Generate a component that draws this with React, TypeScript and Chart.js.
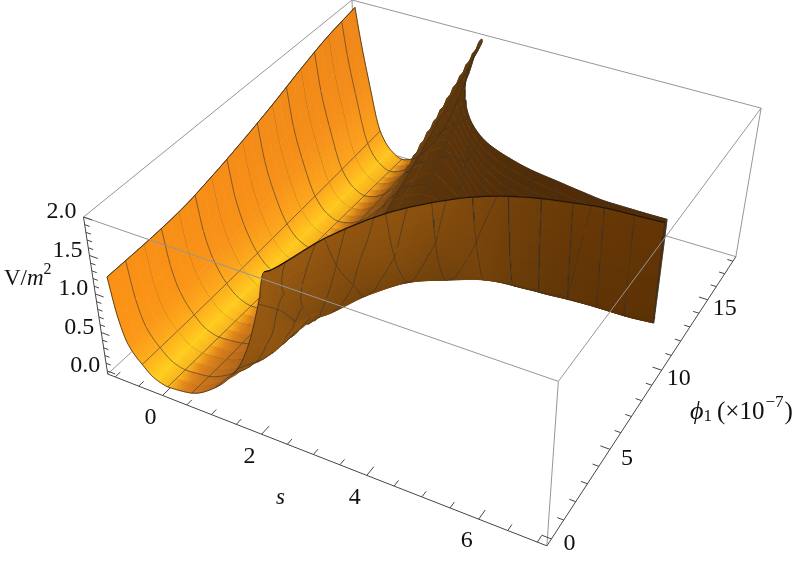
import React, { useEffect, useRef } from "react";
import { Chart, registerables } from "chart.js";

Chart.register(...registerables);

// Surface samples: V(s, phi1). Each row holds one s value, its phi samples and V samples.
const sValues = [-1, -0.9, -0.75, -0.5, -0.25, 0, 0.25, 0.5, 1, 1.5, 1.75, 2, 2.15, 2.5, 3, 3.5, 4, 4.5, 5, 5.5, 6, 6.5, 7];
const sMeshFlags = [1, 0, 0, 1, 0, 1, 0, 1, 1, 1, 0, 1, 0, 1, 1, 1, 1, 1, 1, 1, 1, 1, 1];
const phiRegular = [0, 2.25, 4.5, 6.75, 9, 11.25, 13.5, 15.75, 18];
const phiRows = [
  phiRegular, phiRegular, phiRegular, phiRegular, phiRegular, phiRegular, phiRegular, phiRegular, phiRegular, phiRegular, phiRegular,
  [0, 1.3, 2.26, 3.4, 5.5, 8, 11, 13.5, 15.9],
  [0, 1.2, 2.4, 3.5, 5.8, 8.2, 11.2, 13, 14.9],
  [2.65, 3.38, 4.51, 5.44, 7, 8.4, 11.25, 12.3, 13.3],
  [5, 5.54, 6.1, 6.85, 8, 9.5, 10.9, 11.4, 11.8],
  [6.4, 6.66, 7, 7.69, 8.6, 9.5, 10.2, 10.6, 10.9],
  [7.42, 7.69, 8.1, 8.6, 9.2, 9.7, 10.1, 10.3, 10.4],
  [8.1, 8.3, 8.55, 8.81, 9.2, 9.6, 9.8, 9.95, 10.05],
  [8.55, 8.62, 8.7, 8.8, 9.15, 9.4, 9.6, 9.75, 9.85],
  [8.85, 8.9, 8.95, 9, 9.2, 9.35, 9.45, 9.55, 9.65],
  [9.11, 9.13, 9.16, 9.19, 9.25, 9.3, 9.38, 9.44, 9.5],
  [9.2, 9.2, 9.2, 9.21, 9.27, 9.33, 9.4, 9.45, 9.5],
  [9.3, 9.31, 9.33, 9.37, 9.4, 9.43, 9.46, 9.49, 9.52],
];
const vRows = [
  [1.19, 1.2, 1.23, 1.32, 1.44, 1.58, 1.74, 1.88, 1.97],
  [0.71, 0.72, 0.76, 0.85, 0.95, 1.07, 1.2, 1.37, 1.54],
  [0.37, 0.4, 0.44, 0.5, 0.58, 0.67, 0.77, 0.89, 1.02],
  [0.17, 0.175, 0.185, 0.2, 0.22, 0.24, 0.26, 0.285, 0.31],
  [0.04, 0.04, 0.045, 0.05, 0.055, 0.06, 0.065, 0.07, 0.08],
  [0, 0, 0, 0, 0, 0, 0, 0, 0],
  [0.012, 0.01, 0.012, 0.015, 0.02, 0.025, 0.03, 0.04, 0.05],
  [0.04, 0.03, 0.04, 0.05, 0.07, 0.09, 0.12, 0.15, 0.18],
  [0.23, 0.16, 0.15, 0.2, 0.27, 0.35, 0.44, 0.54, 0.64],
  [0.6, 0.36, 0.32, 0.42, 0.58, 0.78, 1, 1.24, 1.48],
  [0.96, 0.6, 0.5, 0.66, 0.9, 1.15, 1.42, 1.7, 2],
  [1.55, 1.21, 0.89, 0.67, 0.7, 1, 1.35, 1.68, 2],
  [2, 1.45, 1.05, 0.75, 0.72, 1, 1.4, 1.7, 2],
  [2, 1.51, 1.04, 0.73, 0.72, 1, 1.55, 1.78, 2],
  [2, 1.38, 1, 0.76, 0.72, 0.9, 1.34, 1.68, 2],
  [2, 1.52, 1.1, 0.74, 0.7, 0.85, 1.2, 1.6, 2],
  [2, 1.55, 1.05, 0.69, 0.62, 0.75, 1.1, 1.5, 2],
  [2, 1.5, 1.05, 0.72, 0.62, 0.75, 1.1, 1.5, 2],
  [2, 1.6, 1.15, 0.76, 0.65, 0.75, 1.1, 1.5, 2],
  [2, 1.6, 1.15, 0.74, 0.66, 0.75, 1.1, 1.5, 2],
  [2, 1.6, 1.15, 0.72, 0.66, 0.75, 1.1, 1.5, 2],
  [2, 1.6, 1.15, 0.74, 0.66, 0.75, 1.1, 1.5, 2],
  [2, 1.6, 1.15, 0.72, 0.66, 0.75, 1.1, 1.5, 2],
];
// Shading of each row: front part of the row, back part of the row
const rowFrontColors = [
  [250, 145, 22], [251, 147, 22], [252, 152, 24], [254, 175, 28], [255, 206, 30], [250, 180, 30], [226, 132, 26], [205, 120, 28], [175, 100, 25], [145, 84, 16], [148, 88, 17],
  [152, 90, 18], [152, 90, 18], [148, 86, 16], [144, 84, 15], [138, 80, 14], [126, 72, 12], [116, 66, 10], [110, 62, 8], [106, 58, 7], [104, 56, 6], [102, 55, 5], [100, 54, 5],
];
const rowBackColors = [
  [238, 135, 25], [240, 137, 25], [244, 142, 26], [252, 162, 30], [255, 198, 30], [245, 170, 28], [190, 110, 22], [140, 80, 15], [105, 60, 12], [95, 55, 11], [95, 55, 11],
  [95, 55, 11], [95, 55, 11], [92, 52, 10], [88, 50, 10], [85, 48, 9], [82, 46, 8], [80, 45, 8], [80, 45, 8], [80, 45, 8], [80, 45, 8], [80, 45, 8], [80, 45, 8],
];

const sTicks = [-1, -0.5, 0, 0.5, 1, 1.5, 2, 2.5, 3, 3.5, 4, 4.5, 5, 5.5, 6, 6.5, 7];
const sMajor = [0, 2, 4, 6];
const phiTicks = [0, 1, 2, 3, 4, 5, 6, 7, 8, 9, 10, 11, 12, 13, 14, 15, 16, 17, 18];
const phiMajor = [0, 5, 10, 15];
const vTicks = [0, 0.1, 0.2, 0.3, 0.4, 0.5, 0.6, 0.7, 0.8, 0.9, 1, 1.1, 1.2, 1.3, 1.4, 1.5, 1.6, 1.7, 1.8, 1.9, 2];
const vMajor = [0, 0.5, 1, 1.5, 2];
const phiMeshLines = [1.125, 2.25, 3.375, 4.5, 5.625, 6.75, 7.875, 9, 10.125, 11.25, 12.375, 13.5, 14.625, 15.75, 16.875];

const S0 = -1.16, S1 = 7.16, P0 = -0.36, P1 = 18.36, Z0 = -0.04, Z1 = 2.0;

// Perspective of the plot box, on plot coordinates
function project(s: number, phi: number, V: number) {
  const u = (s - S0) / (S1 - S0);
  const v = (phi - P0) / (P1 - P0);
  const w = (V - Z0) / (Z1 - Z0);
  const D = 1 - 0.119 * u + 0.2196 * v;
  return {
    x: ((374.1 + 34.3 * w) * u + (328.1 + 17.7 * w) * v + 107.7 - 24.2 * w) / D,
    y: ((106.9 + 12.1 * w) * u + (-198.4 - 18.6 * w) * v + 374 - 157 * w) / D,
  };
}

const NC = 9;
const NR = sValues.length;

function lerp(a: number, b: number, t: number) { return a + (b - a) * t; }

// Monotone cubic between samples, so the drawn surface is smooth without overshooting
function slopeAt(xs: number[], ys: number[], k: number) {
  const n = xs.length;
  if (k <= 0) return (ys[1] - ys[0]) / (xs[1] - xs[0]);
  if (k >= n - 1) return (ys[n - 1] - ys[n - 2]) / (xs[n - 1] - xs[n - 2]);
  const h0 = xs[k] - xs[k - 1], h1 = xs[k + 1] - xs[k];
  const d0 = (ys[k] - ys[k - 1]) / h0, d1 = (ys[k + 1] - ys[k]) / h1;
  if (d0 * d1 <= 0) return 0;
  const w0 = 2 * h1 + h0, w1 = h1 + 2 * h0;
  return (w0 + w1) / (w0 / d0 + w1 / d1);
}
function hermite(xs: number[], ys: number[], i: number, t: number) {
  const h = xs[i + 1] - xs[i];
  const m0 = slopeAt(xs, ys, i), m1 = slopeAt(xs, ys, i + 1);
  const t2 = t * t, t3 = t2 * t;
  return (2 * t3 - 3 * t2 + 1) * ys[i] + (t3 - 2 * t2 + t) * h * m0 + (-2 * t3 + 3 * t2) * ys[i + 1] + (t3 - t2) * h * m1;
}
const colIndex = Array.from({ length: NC }, (_, i) => i);

function surf(r: number, c: number) {
  const r0 = Math.min(Math.floor(r), NR - 2), c0 = Math.min(Math.floor(c), NC - 2);
  const tr = r - r0, tc = c - c0;
  const lo = Math.max(0, r0 - 1), hi = Math.min(NR - 1, r0 + 2);
  const xs: number[] = [], ps: number[] = [], vs: number[] = [];
  for (let k = lo; k <= hi; k++) {
    xs.push(sValues[k]);
    ps.push(hermite(colIndex, phiRows[k], c0, tc));
    vs.push(hermite(colIndex, vRows[k], c0, tc));
  }
  const i = r0 - lo;
  const s = lerp(sValues[r0], sValues[r0 + 1], tr);
  return project(s, hermite(xs, ps, i, tr), Math.min(2, hermite(xs, vs, i, tr)));
}
function phiIndex(r: number, p: number) {
  const row = phiRows[r];
  if (p <= row[0]) return 0;
  if (p >= row[NC - 1]) return NC - 1;
  for (let i = 0; i < NC - 1; i++) if (p <= row[i + 1]) return i + (p - row[i]) / Math.max(1e-6, row[i + 1] - row[i]);
  return NC - 1;
}
function nodeColor(r: number, c: number) {
  const a = rowFrontColors[r], b = rowBackColors[r];
  if (r >= 11) {
    const dark = r < 16 ? 0.22 : 0.08;
    if (c >= 4) return b;
    if (c <= 3) { const k = 1 - dark * (c / 3); return [a[0] * k, a[1] * k, a[2] * k]; }
    const k = 1 - dark;
    return [lerp(a[0] * k, b[0], c - 3), lerp(a[1] * k, b[1], c - 3), lerp(a[2] * k, b[2], c - 3)];
  }
  const t = c / (NC - 1);
  return [lerp(a[0], b[0], t), lerp(a[1], b[1], t), lerp(a[2], b[2], t)];
}
const rgb = (c: number[]) => `rgb(${Math.round(c[0])},${Math.round(c[1])},${Math.round(c[2])})`;
const NAN = { x: NaN, y: NaN };

function buildDatasets(ctx: CanvasRenderingContext2D) {
  const sets: any[] = [];
  const line = (data: any[], color: string, width: number) => ({
    data, showLine: true, borderColor: color, borderWidth: width, pointRadius: 0, tension: 0, fill: false, spanGaps: false, clip: false,
  });
  const corner = (a: number, b: number, c: number) => project(a ? S1 : S0, b ? P1 : P0, c ? Z1 : Z0);
  const seg = (p: any, q: any) => [p, q, NAN];

  // edges behind the surface
  sets.push(line([
    ...seg(corner(0, 0, 0), corner(0, 1, 0)), ...seg(corner(0, 1, 0), corner(1, 1, 0)), ...seg(corner(0, 1, 0), corner(0, 1, 1)),
    ...seg(corner(0, 0, 1), corner(0, 1, 1)), ...seg(corner(0, 1, 1), corner(1, 1, 1)),
  ], "rgb(150,150,150)", 1));

  // surface cells, far to near
  const cells: any[] = [];
  const rank: number[][] = [];
  for (let r = 0; r < NR - 1; r++) {
    rank.push(new Array(NC - 1).fill(0));
    for (let c = 0; c < NC - 1; c++) {
      const depth = project(
        (sValues[r] + sValues[r + 1]) / 2,
        (phiRows[r][c] + phiRows[r][c + 1] + phiRows[r + 1][c] + phiRows[r + 1][c + 1]) / 4,
        Z0).y;
      cells.push({ r, c, depth, segs: [] as any[] });
    }
  }
  cells.sort((a, b) => a.depth - b.depth);
  cells.forEach((cell, i) => { rank[cell.r][cell.c] = i; });
  const cellAt = (r: number, c: number) => cells[rank[r][c]];

  const STRIPS = 4, ALONG = 4;

  // s mesh lines go with the later of the two cells that share them
  for (let r = 0; r < NR; r++) {
    if (!sMeshFlags[r]) continue;
    for (let c = 0; c < NC - 1; c++) {
      const lo = r > 0 ? rank[r - 1][c] : -1;
      const hi = r < NR - 1 ? rank[r][c] : -1;
      const owner = cells[Math.max(lo, hi)];
      for (let k = 0; k <= STRIPS; k++) owner.segs.push(surf(r, c + k / STRIPS));
      owner.segs.push(NAN);
    }
  }
  // phi mesh lines: each stops where it leaves the sampled part of the next row
  for (const p of phiMeshLines) {
    for (let r = 0; r < NR - 1; r++) {
      const A = phiRows[r], B = phiRows[r + 1];
      if (p < A[0] || p > A[NC - 1]) continue;
      let tEnd = 1;
      if (p < B[0]) tEnd = (p - A[0]) / (B[0] - A[0]);
      else if (p > B[NC - 1]) tEnd = (A[NC - 1] - p) / (A[NC - 1] - B[NC - 1]);
      const a = phiIndex(r, p), b = phiIndex(r + 1, p);
      const n = 4;
      for (let k = 0; k < n; k++) {
        const t0 = k / n, t1 = (k + 1) / n;
        const c0 = lerp(a, b, t0), c1 = lerp(a, b, t1);
        const cm = Math.min(NC - 2, Math.floor((c0 + c1) / 2));
        cellAt(r, cm).segs.push(surf(r + t0 * tEnd, c0), surf(r + t1 * tEnd, c1), NAN);
      }
    }
  }
  // fills
  for (const cell of cells) {
    const { r, c } = cell;
    for (let k = STRIPS - 1; k >= 0; k--) {
      const ca = c + k / STRIPS, cb = c + (k + 1) / STRIPS;
      const poly: any[] = [];
      for (let i = 0; i <= ALONG; i++) poly.push(surf(r + i / ALONG, ca));
      for (let i = ALONG; i >= 0; i--) poly.push(surf(r + i / ALONG, cb));
      poly.push(poly[0]);
      const a0 = surf(r, ca), a1 = surf(r, cb), b0 = surf(r + 1, ca), b1 = surf(r + 1, cb);
      const g = ctx.createLinearGradient((a0.x + a1.x) / 2, (a0.y + a1.y) / 2, (b0.x + b1.x) / 2, (b0.y + b1.y) / 2);
      const cm = (ca + cb) / 2;
      g.addColorStop(0, rgb(nodeColor(r, cm)));
      g.addColorStop(1, rgb(nodeColor(r + 1, cm)));
      sets.push({
        data: poly, showLine: true, fill: "shape", backgroundColor: g, borderColor: g, borderWidth: 0.7,
        pointRadius: 0, tension: 0, clip: false,
      });
    }
    if (cell.segs.length) sets.push(line(cell.segs, "rgba(55,50,40,0.75)", 0.8));
  }

  // outlines of the surface
  const path = (fn: (t: number) => any, a: number, b: number, n: number) => {
    const out: any[] = [];
    for (let i = 0; i <= n; i++) out.push(fn(lerp(a, b, i / n)));
    out.push(NAN);
    return out;
  };
  const outline: any[] = [
    ...path((t) => surf(0, t), 0, NC - 1, 32),
    ...path((t) => surf(t, NC - 1), 0, NR - 1, 132),
    ...path((t) => surf(t, 0), 0, 12, 72),
    ...path((t) => surf(NR - 1, t), 0, 3, 12),
  ];
  sets.push(line(outline, "rgb(60,45,25)", 0.8));
  sets.push(line(path((t) => surf(t, 0), 12, NR - 1, 60), "rgb(35,22,8)", 1.3));

  // edges in front of the surface
  sets.push(line([
    ...seg(corner(0, 0, 1), corner(1, 0, 1)), ...seg(corner(1, 0, 1), corner(1, 1, 1)),
    ...seg(corner(1, 0, 0), corner(1, 0, 1)), ...seg(corner(1, 1, 0), corner(1, 1, 1)),
  ], "rgb(150,150,150)", 1));

  // axes and ticks
  const ax: any[] = [
    ...seg(corner(0, 0, 0), corner(1, 0, 0)), ...seg(corner(1, 0, 0), corner(1, 1, 0)), ...seg(corner(0, 0, 0), corner(0, 0, 1)),
  ];
  for (const s of sTicks) ax.push(...seg(project(s, P0, Z0), project(s, P0 + (sMajor.includes(s) ? 0.5 : 0.32), Z0)));
  for (const p of phiTicks) ax.push(...seg(project(S1, p, Z0), project(S1 - (phiMajor.includes(p) ? 0.17 : 0.11), p, Z0)));
  for (const v of vTicks) ax.push(...seg(project(S0, P0, v), project(S0 + (vMajor.includes(v) ? 0.17 : 0.1), P0, v)));
  sets.push(line(ax, "rgb(70,70,70)", 1));
  return sets;
}

const SERIF = '"Liberation Serif"';
const labelPlugin = {
  id: "plotLabels",
  afterDraw(chart: any) {
    const { ctx, scales } = chart;
    const px = (p: any) => ({ x: scales.x.getPixelForValue(p.x), y: scales.y.getPixelForValue(p.y) });
    ctx.save();
    ctx.fillStyle = "#111";
    ctx.textBaseline = "middle";
    ctx.font = `24px ${SERIF}`;
    ctx.textAlign = "center";
    for (const s of sMajor) { const p = px(project(s, P0, Z0)); ctx.fillText(String(s), p.x - 12, p.y + 22); }
    for (const f of phiMajor) { const p = px(project(S1, f, Z0)); ctx.fillText(String(f), p.x + (f === 0 ? 18 : 17), p.y + (f === 0 ? 5 : 9)); }
    ctx.textAlign = "right";
    for (const v of vMajor) { const p = px(project(S0, P0, v)); ctx.fillText(v.toFixed(1), p.x - 7, p.y - 5); }
    ctx.textAlign = "left";
    // axis titles
    ctx.font = `italic 23px ${SERIF}`;
    ctx.fillText("s", 276, 498);
    let x = 4;
    const put = (t: string, font: string, dy = 0) => { ctx.font = font; ctx.fillText(t, x, 279 + dy); x += ctx.measureText(t).width; };
    put("V/", `23px ${SERIF}`);
    put("m", `italic 23px ${SERIF}`);
    put("2", `16px ${SERIF}`, -9);
    x = 690;
    const put2 = (t: string, font: string, dy = 0, gap = 0) => { ctx.font = font; ctx.fillText(t, x, 412 + dy); x += ctx.measureText(t).width + gap; };
    put2("\u03D5", `italic 26px ${SERIF}`);
    put2("1", `17px ${SERIF}`, 5, 5);
    put2("(\u00D710", `25px ${SERIF}`, 0, 1);
    put2("\u22127", `17px ${SERIF}`, -9, 1);
    put2(")", `25px ${SERIF}`);
    ctx.restore();
  },
};

export default function App() {
  const ref = useRef<HTMLCanvasElement>(null);
  useEffect(() => {
    document.body.style.margin = "0";
    const canvas = ref.current!;
    const ctx = canvas.getContext("2d")!;
    const datasets = buildDatasets(ctx).reverse();
    const chart = new Chart(canvas, {
      type: "scatter",
      data: { datasets },
      options: {
        animation: false,
        responsive: false,
        devicePixelRatio: 1,
        layout: { padding: 0 },
        plugins: { legend: { display: false }, title: { display: false }, tooltip: { enabled: false } },
        scales: {
          x: { type: "linear", display: false, min: 0, max: 800 },
          y: { type: "linear", display: false, min: 0, max: 564, reverse: true },
        },
      },
      plugins: [labelPlugin],
    } as any);
    return () => chart.destroy();
  }, []);
  return <canvas ref={ref} width={800} height={564} style={{ display: "block", width: 800, height: 564, background: "#fff" }} />;
}
